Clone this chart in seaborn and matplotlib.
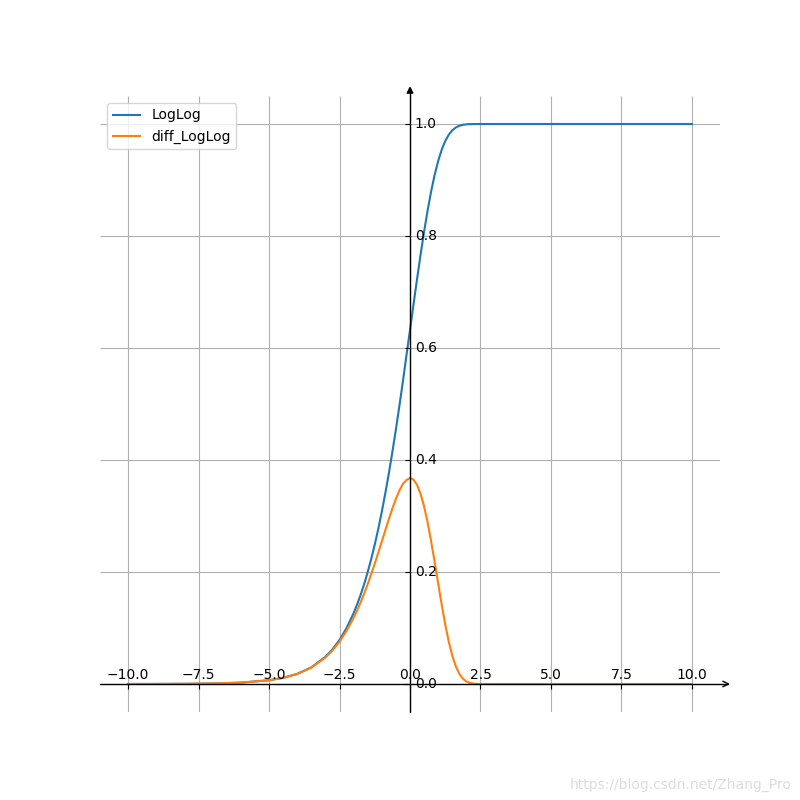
import numpy as np
import pandas as pd
import matplotlib
matplotlib.use("Agg")
import matplotlib.pyplot as plt
import seaborn as sns
from mpl_toolkits import axisartist

# valeurs (LogLog et sa dérivée)
x_vals = [-10, -9, -8, -7, -6, -5, -4.5, -4, -3.5, -3, -2.75, -2.5, -2.25, -2,
          -1.875, -1.75, -1.625, -1.5, -1.375, -1.25, -1.125, -1, -0.875, -0.75,
          -0.625, -0.5, -0.375, -0.25, -0.125, 0, 0.125, 0.25, 0.375, 0.5, 0.625,
          0.75, 0.875, 1, 1.125, 1.25, 1.375, 1.5, 1.625, 1.75, 1.875, 2, 2.125,
          2.25, 2.375, 2.5, 3, 4, 5, 6, 7, 8, 9, 10]
loglog = [0.00005, 0.00012, 0.00034, 0.00091, 0.00247, 0.00672, 0.01105, 0.01815,
          0.02975, 0.04857, 0.06193, 0.07881, 0.10003, 0.12658,
          0.14218, 0.15951, 0.17873, 0.19999, 0.22341, 0.24910, 0.27722, 0.30780,
          0.34089, 0.37648, 0.41448, 0.45476, 0.49706, 0.54104, 0.58727, 0.63212,
          0.67798, 0.72309, 0.76660, 0.80770, 0.84561, 0.87961, 0.90918, 0.93401,
          0.95405, 0.96952, 0.98084, 0.98869, 0.99377, 0.99683, 0.99853, 0.99938,
          0.99977, 0.99992, 0.99998, 0.99999, 1.0, 1.0, 1.0, 1.0, 1.0, 1.0, 1.0, 1.0]
diff_loglog = [0.00005, 0.00012, 0.00034, 0.00091, 0.00247, 0.00669, 0.01099, 0.01798,
               0.02930, 0.04737, 0.05997, 0.07562, 0.09486, 0.11821,
               0.13155, 0.14606, 0.16172, 0.17851, 0.19635, 0.21514, 0.23465, 0.25465,
               0.27476, 0.29453, 0.31340, 0.33070, 0.34566, 0.35744, 0.36423, 0.36788,
               0.36489, 0.35557, 0.33960, 0.31704, 0.28845, 0.25487, 0.21787, 0.17937,
               0.14153, 0.10639, 0.07577, 0.05071, 0.03164, 0.01823, 0.00960, 0.00457,
               0.00194, 0.00072, 0.00023, 0.00006, 0.0, 0.0, 0.0, 0.0, 0.0, 0.0, 0.0, 0.0]

df = pd.DataFrame({"x": x_vals, "LogLog": loglog, "diff_LogLog": diff_loglog})

fig = plt.figure(figsize=(8, 8), dpi=100)
ax = axisartist.Subplot(fig, 111)
fig.add_axes(ax)

# axes centrés avec flèches
ax.axis[:].set_visible(False)
ax.axis["x"] = ax.new_floating_axis(0, 0)
ax.axis["x"].set_axisline_style("->", size=1.0)
ax.axis["y"] = ax.new_floating_axis(1, 0)
ax.axis["y"].set_axisline_style("-|>", size=1.0)
ax.axis["x"].set_axis_direction("top")
ax.axis["y"].set_axis_direction("right")

sns.lineplot(data=df, x="x", y="LogLog", ax=ax, label="LogLog", color="#1f77b4")
sns.lineplot(data=df, x="x", y="diff_LogLog", ax=ax, label="diff_LogLog", color="#ff7f0e")

ax.set_xticks([-10, -7.5, -5, -2.5, 0, 2.5, 5, 7.5, 10])
ax.set_yticks([0, 0.2, 0.4, 0.6, 0.8, 1.0])
ax.set_xlim(-11, 11)
ax.set_ylim(-0.05, 1.05)
ax.set_xlabel("")
ax.set_ylabel("")
ax.grid(True)
ax.legend(loc="upper left")

fig.text(0.99, 0.01, "https://blog.csdn.net/Zhang_Pro", color="#dddddd",
         fontsize=10, ha="right", va="bottom")

plt.savefig("out.png", dpi=100)
